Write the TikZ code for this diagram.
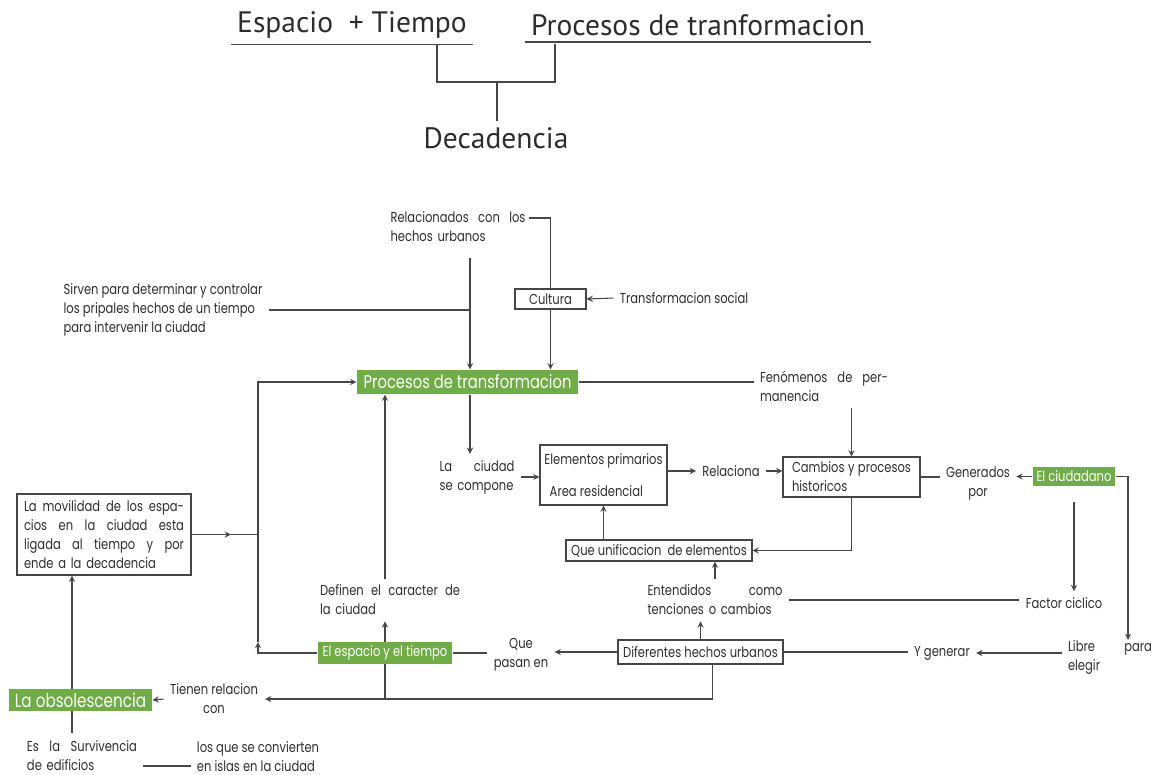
\documentclass[tikz,border=0pt]{standalone}
\usepackage{fontspec}
\setmainfont[FakeStretch=0.8]{Poppins}
\newfontfamily\titlefont{PT Sans}
\usetikzlibrary{calc}
\definecolor{verde}{RGB}{112,173,71}
\definecolor{linea}{RGB}{70,70,70}
\definecolor{tinta}{RGB}{45,45,45}

\begin{document}
\begin{tikzpicture}[>=stealth, color=linea, line width=0.6pt,
  every node/.style={font=\fontsize{8.2}{10.8}\selectfont, text=tinta},
  caja/.style={draw=linea, inner sep=2pt},
  verdecaja/.style={fill=verde, text=white, inner sep=2pt},
  titulo/.style={font=\titlefont\fontsize{16.8}{18}\selectfont}]
\useasboundingbox (0,0) rectangle (23.14,-15.5);

% titulo
\node[titulo] (espt) at (7.04,-0.5) {Espacio \ + Tiempo};
\node[titulo] (proct) at (13.96,-0.5) {Procesos de tranformacion};
\node[titulo] (deca) at (9.92,-2.76) {Decadencia};
\draw (espt.south west) -- (espt.south east);
\draw (proct.south west) -- (proct.south east);
\coordinate (b1) at (8.74,-0.88);
\coordinate (b2) at (11.1,-0.88);
\coordinate (bm) at (9.94,-1.64);
\draw (b1) -- ++(0,-0.76) -| (b2);
\draw (bm) -- (bm |- deca.north);

% nodos
\node[align=left, text width=2.7cm] (rel) at (9.16,-4.54) {Relacionados\hfill con\hfill los\\hechos urbanos};
\node[caja, minimum width=1.42cm, minimum height=0.4cm] (cultura) at (11.01,-5.98) {Cultura};
\node (social) at (13.68,-5.96) {Transformacion social};
\node[align=left] (sirven) at (3.26,-6.2) {Sirven para determinar y controlar\\los pripales hechos de un tiempo\\para intervenir la ciudad};
\node[verdecaja, minimum width=4.42cm, minimum height=0.48cm, font=\fontsize{10.5}{12}\selectfont] (procesos) at (9.35,-7.64) {Procesos de transformacion};
\node[align=left, text width=2.56cm] (fenomenos) at (16.48,-7.72) {Fenómenos\hfill de\hfill per-\\manencia};
\node[align=left, text width=1.5cm] (ciudad) at (9.54,-9.54) {La\hfill ciudad\\se compone};
\node[caja, minimum width=2.54cm, minimum height=1.2cm, align=left] (elementos) at (12.07,-9.5) {Elementos primarios\\[7pt]\hspace{3pt}Area residencial};
\node (relaciona) at (14.62,-9.42) {Relaciona};
\node[caja, minimum width=2.74cm, minimum height=0.8cm, text width=2.38cm, align=left] (cambios) at (17.03,-9.54) {Cambios\hfill y\hfill procesos\\historicos};
\node[align=center] (generados) at (19.56,-9.68) {Generados\\por};
\node[verdecaja, minimum width=1.64cm, minimum height=0.38cm] (ciudadano) at (21.48,-9.53) {El ciudadano};
\node[caja, minimum width=3.72cm, minimum height=0.42cm] (unificacion) at (13.18,-11.01) {Que unificacion\ \ de elementos};
\node[caja, minimum width=3.48cm, minimum height=1.62cm, text width=3.2cm, align=left] (movilidad) at (2.08,-10.69) {La\hfill movilidad\hfill de\hfill los\hfill espa-\\cios\hfill en\hfill la\hfill ciudad\hfill esta\\ligada\hfill al\hfill tiempo\hfill y\hfill por\\ende a la decadencia};
\node[align=left, text width=2.8cm] (definen) at (7.8,-12.0) {Definen\hfill el\hfill caracter\hfill de\\la ciudad};
\node[align=left, text width=2.7cm] (entendidos) at (14.3,-12.0) {Entendidos\hfill como\\tenciones o cambios};
\node (factor) at (21.28,-12.06) {Factor ciclico};
\node[verdecaja, minimum width=2.68cm, minimum height=0.4cm] (espacio) at (7.7,-13.06) {El espacio y el tiempo};
\node[align=center] (quepasan) at (10.42,-13.1) {Que\\pasan en};
\node[caja, minimum width=3.3cm, minimum height=0.48cm] (diferentes) at (14.01,-13.04) {Diferentes hechos urbanos};
\node (ygenerar) at (18.84,-13.06) {Y generar};
\node[align=left, text width=1.68cm] (libre) at (22.2,-13.14) {Libre\hfill para\\elegir};
\node[align=center] (tienen) at (4.28,-13.98) {Tienen relacion\\con};
\node[verdecaja, minimum width=2.86cm, minimum height=0.4cm, font=\fontsize{10.8}{12}\selectfont] (obsolescencia) at (1.61,-14.0) {La obsolescencia};
\node[align=left, text width=2.2cm] (survivencia) at (1.64,-15.12) {Es\hfill la\hfill Survivencia\\de edificios};
\node[align=left] (islas) at (5.16,-15.13) {los que se convierten\\en islas en la ciudad};

% arriba
\coordinate (r1) at (10.58,-4.36);
\coordinate (r2) at (9.4,-5.16);
\draw (r1) -| (cultura.north);
\draw[->] (cultura.south) -- (cultura.south |- procesos.north);
\draw[->] (r2) -- (r2 |- procesos.north);
\draw (sirven.east) -- (sirven.east -| r2);
\draw[->] (social.west) -- (cultura.east);
\draw (procesos.east) -- (procesos.east -| fenomenos.west);
\draw[->] (cambios.north |- fenomenos.south) -- (cambios.north);

% centro
\draw[->] (procesos.south -| r2) -- (r2 |- ciudad.north);
\draw[->] (ciudad.east) -- (ciudad.east -| elementos.west);
\draw[->] (elementos.east |- relaciona.west) -- (relaciona.west);
\draw[->] (relaciona.east) -- (relaciona.east -| cambios.west);
\draw[->] (cambios.south) |- (unificacion.east);
\draw[->] (elementos.south |- unificacion.north) -- (elementos.south);
\draw[->] (entendidos.north) -- (entendidos.north |- unificacion.south);
\draw[->] (diferentes.north) -- (diferentes.north |- entendidos.south);
\draw (entendidos.east) -- (entendidos.east -| factor.west);

% derecha
\coordinate (pa) at (22.56,-12.8);
\draw (cambios.east) -- (cambios.east -| generados.west);
\draw[->] (ciudadano.west) -- (ciudadano.west -| generados.east);
\draw[->] ([yshift=-0.3cm]ciudadano.south) -- (ciudadano.south |- factor.north);
\draw[->] (ciudadano.east) -| (pa);
\draw[->] (ygenerar.east -| libre.west) -- (ygenerar.east);
\draw (diferentes.east) -- (diferentes.east -| ygenerar.west);
\draw[->] (diferentes.west) -- (diferentes.west -| quepasan.east);
\draw (espacio.east) -- (espacio.east -| quepasan.west);

% izquierda
\coordinate (lp) at (5.16,-12.84);
\coordinate (mv) at (4.62,-10.62);
\coordinate (tn) at (5.3,-13.98);
\coordinate (sv) at (1.44,-14.66);
\draw[->] (espacio.west) -| (lp);
\draw[->] (lp) |- (procesos.west);
\draw[->] (movilidad.east) -- (movilidad.east -| mv);
\draw (movilidad.east -| mv) -- (movilidad.east -| lp);
\draw[->] (espacio.north) -- (espacio.north |- definen.south);
\draw[->] (espacio.north |- definen.north) -- (espacio.north |- procesos.south);
\draw[->] ([xshift=0.24cm]diferentes.south) |- (tn);
\draw (espacio.south) -- (espacio.south |- tn);
\draw[->] (tienen.west) -- (obsolescencia.east);
\draw (sv) -- (sv |- obsolescencia.south);
\draw[->] (sv |- obsolescencia.north) -- (sv |- movilidad.south);
\draw ([yshift=-0.2cm]survivencia.east) -- ([yshift=-0.2cm]survivencia.east -| islas.west);
\end{tikzpicture}
\end{document}
